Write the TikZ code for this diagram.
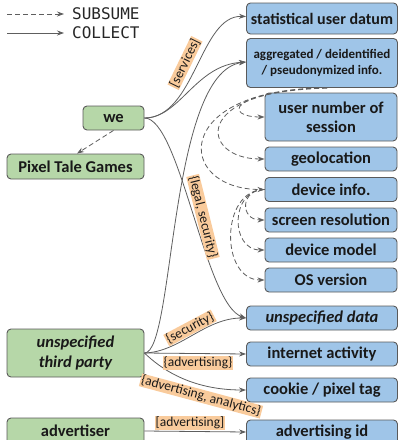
\documentclass[tikz,border=0pt]{standalone}
\usepackage{fontspec}
\setmainfont{Carlito}
\newfontfamily\legendfont{DejaVu Sans Mono}
\usetikzlibrary{arrows.meta}
\definecolor{gfill}{HTML}{B6D7A8}
\definecolor{bfill}{HTML}{9FC5E8}
\definecolor{ofill}{HTML}{F9CB9C}
\definecolor{edgec}{HTML}{5E5E5E}
\definecolor{borderc}{HTML}{5A5A5A}
\begin{document}
\begin{tikzpicture}[x=1pt,y=-1pt,
  box/.style={draw=borderc, line width=0.9pt, rounded corners=4pt, align=center, inner sep=0pt, font=\bfseries\fontsize{16.5}{18}\selectfont, text=black!90},
  gbox/.style={box, fill=gfill},
  bbox/.style={box, fill=bfill},
  collect/.style={draw=edgec, line width=0.8pt, -{Stealth[length=7pt,width=5pt]}},
  subsume/.style={collect, dash pattern=on 5pt off 3pt},
  lab/.style={fill=ofill, inner xsep=1pt, inner ysep=0.5pt, font=\fontsize{13.5}{15}\selectfont, text=black!90},
  legtext/.style={anchor=west, inner sep=0pt, font=\legendfont\fontsize{16}{18}\selectfont, text=black!85},
]
\useasboundingbox (0,0) rectangle (402,440);

% legend
\coordinate (l1s) at (7,14);
\coordinate (l1e) at (64,14);
\coordinate (l2s) at (7,33);
\coordinate (l2e) at (64,33);
\draw[subsume] (l1s) -- (l1e);
\draw[collect] (l2s) -- (l2e);
\node[legtext] (lg1) at (72,14) {SUBSUME};
\node[legtext] (lg2) at (72,33) {COLLECT};

% left nodes
\node[gbox, minimum width=61pt, minimum height=24pt] (we) at (113.5,118) {we};
\node[gbox, minimum width=137pt, minimum height=25pt] (ptg) at (75.5,166.5) {Pixel Tale Games};
\node[gbox, minimum width=137pt, minimum height=48pt, font=\bfseries\itshape\fontsize{16.5}{20.5}\selectfont] (third) at (75.5,353) {unspecified\\third party};
\node[gbox, minimum width=137pt, minimum height=26pt] (adv) at (75.5,431) {advertiser};

% right nodes
\node[bbox, minimum width=151pt, minimum height=31pt, font=\bfseries\fontsize{16}{18}\selectfont] (stat) at (322,18.5) {statistical user datum};
\node[bbox, minimum width=151pt, minimum height=49pt, font=\bfseries\fontsize{13}{16}\selectfont] (agg) at (322,63) {aggregated / deidentified\\/ pseudonymized info.};
\node[bbox, minimum width=132pt, minimum height=48pt, font=\bfseries\fontsize{16.5}{19}\selectfont] (usernum) at (331,117) {user number of\\session};
\node[bbox, minimum width=132pt, minimum height=24pt] (geo) at (331,159) {geolocation};
\node[bbox, minimum width=132pt, minimum height=24pt] (devinfo) at (331,189.5) {device info.};
\node[bbox, minimum width=132pt, minimum height=24pt] (screen) at (331,220) {screen resolution};
\node[bbox, minimum width=132pt, minimum height=24pt] (model) at (331,250) {device model};
\node[bbox, minimum width=132pt, minimum height=24pt] (os) at (331,280) {OS version};
\node[bbox, minimum width=151pt, minimum height=24pt, font=\bfseries\itshape\fontsize{16.5}{18}\selectfont] (udata) at (322,318) {unspecified data};
\node[bbox, minimum width=151pt, minimum height=24pt] (inet) at (322,354) {internet activity};
\node[bbox, minimum width=151pt, minimum height=24pt] (cookie) at (322,390) {cookie / pixel tag};
\node[bbox, minimum width=151pt, minimum height=24pt] (advid) at (322,432) {advertising id};

% subsume edges
\draw[subsume] (we.south) -- ([xshift=1.5pt]ptg.north);
\draw[subsume] ([xshift=5pt]agg.south) .. controls (225,92) and (225,117) .. (usernum.west);
\draw[subsume] ([xshift=5pt]agg.south) .. controls (190,90) and (200,159) .. (geo.west);
\draw[subsume] ([xshift=5pt]agg.south) .. controls (170,88) and (175,189.5) .. (devinfo.west);
\draw[subsume] (devinfo.west) .. controls (240,189.5) and (240,220) .. (screen.west);
\draw[subsume] (devinfo.west) .. controls (230,189.5) and (230,250) .. (model.west);
\draw[subsume] (devinfo.west) .. controls (220,189.5) and (220,280) .. (os.west);

% collect edges
\draw[collect] (we.east) .. controls (195,118) and (200,15) .. ([yshift=2pt]stat.west);
\draw[collect] (we.east) .. controls (180,118) and (195,65) .. ([yshift=1pt]agg.west);
\draw[collect] (third.east) .. controls (175,353) and (168,72) .. ([yshift=1pt]agg.west);
\draw[collect] (we.east) .. controls (180,118) and (205,305) .. (udata.west);
\draw[collect] (third.east) .. controls (180,352) and (205,318) .. (udata.west);
\draw[collect] (third.east) -- (inet.west);
\draw[collect] (third.east) .. controls (160,368) and (190,390) .. (cookie.west);
\draw[collect] (adv.east) -- (advid.west);

% labels
\node[lab, rotate=64] (lservices) at (185,63) {[services]};
\node[lab, rotate=-76] (llegal) at (203,217) {\{legal, security\}};
\node[lab, rotate=28] (lsecurity) at (190,328) {\{security\}};
\node[lab] (ladv1) at (198,363) {\{advertising\}};
\node[lab, rotate=-15] (ladv2) at (201,396) {\{advertising, analytics\}};
\node[lab] (ladv3) at (190,423) {[advertising]};
\end{tikzpicture}
\end{document}
